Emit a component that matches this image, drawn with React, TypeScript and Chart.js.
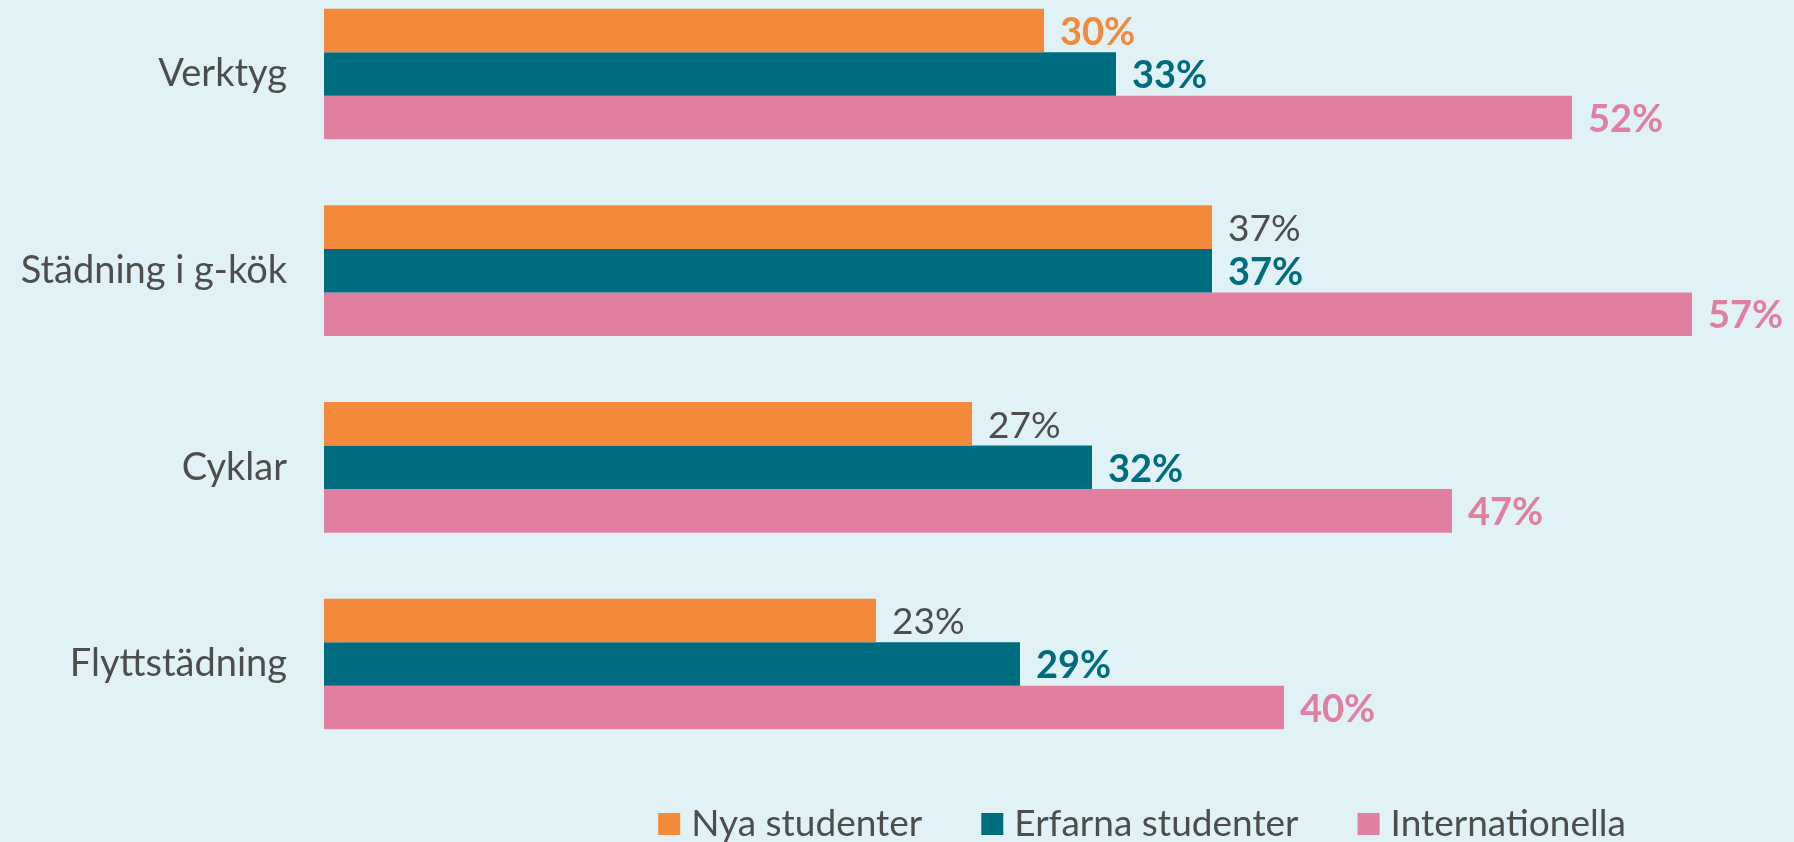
import React, { useEffect, useRef } from "react";
import { Chart, registerables } from "chart.js";

Chart.register(...registerables);

// ---- data ----
const categories = ["Verktyg", "Städning i g-kök", "Cyklar", "Flyttstädning"];
const seriesNames = ["Nya studenter", "Erfarna studenter", "Internationella"];
const nyaStudenter = [30, 37, 27, 23];
const erfarnaStudenter = [33, 37, 32, 29];
const internationella = [52, 57, 47, 40];
const valueAxisMin = 0;
const valueAxisMax = 60;

// ---- styles ----
const COLORS = ["#F2893B", "#006C80", "#E07FA0"];
const BG = "#E0F2F6";
const TEXT = "#4D4D4D";
const FONT = "Lato, 'Open Sans', sans-serif";
// which labels of the first series are emphasised (bold, in series colour)
const firstSeriesEmphasis = [true, false, false, false];

const W = 1794;
const H = 842;

const valueLabels = {
  id: "valueLabels",
  afterDatasetsDraw(chart: any) {
    const ctx = chart.ctx;
    ctx.save();
    ctx.textAlign = "left";
    ctx.textBaseline = "middle";
    chart.data.datasets.forEach((ds: any, di: number) => {
      const meta = chart.getDatasetMeta(di);
      meta.data.forEach((bar: any, i: number) => {
        const v = ds.data[i];
        const bold = di > 0 || firstSeriesEmphasis[i];
        ctx.font = bold ? `700 38px ${FONT}` : `400 37px ${FONT}`;
        ctx.fillStyle = bold ? COLORS[di] : TEXT;
        ctx.fillText(`${v}%`, bar.x + 16, bar.y + 2);
      });
    });
    ctx.restore();
  },
};

const bottomLegend = {
  id: "bottomLegend",
  afterDraw(chart: any) {
    const ctx = chart.ctx;
    ctx.save();
    ctx.font = `400 37px ${FONT}`;
    ctx.textBaseline = "middle";
    ctx.textAlign = "left";
    const box = 22;
    const gapText = 11;
    const gapItem = 59;
    const items = chart.data.datasets.map((d: any) => ({
      text: d.label,
      color: d.backgroundColor,
      w: ctx.measureText(d.label).width,
    }));
    const total =
      items.reduce((s: number, it: any) => s + box + gapText + it.w, 0) +
      gapItem * (items.length - 1);
    let x = 1142 - total / 2;
    const cy = 824;
    items.forEach((it: any) => {
      ctx.fillStyle = it.color;
      ctx.fillRect(x, cy - box / 2, box, box);
      x += box + gapText;
      ctx.fillStyle = TEXT;
      ctx.fillText(it.text, x, cy);
      x += it.w + gapItem;
    });
    ctx.restore();
  },
};

export default function App() {
  const ref = useRef<HTMLCanvasElement | null>(null);

  useEffect(() => {
    if (!ref.current) return;
    const series = [nyaStudenter, erfarnaStudenter, internationella];
    const chart = new Chart(ref.current, {
      type: "bar",
      data: {
        labels: categories,
        datasets: series.map((d, i) => ({
          label: seriesNames[i],
          data: d,
          backgroundColor: COLORS[i],
          borderWidth: 0,
          barPercentage: 1,
          categoryPercentage: 0.664,
          clip: false as any,
        })),
      },
      options: {
        indexAxis: "y",
        responsive: false,
        animation: false,
        layout: { padding: { top: 74, bottom: 178, left: 0, right: 30 } },
        plugins: {
          legend: { display: false },
          tooltip: { enabled: false },
        },
        scales: {
          x: {
            display: false,
            min: valueAxisMin,
            max: valueAxisMax,
          },
          y: {
            type: "category",
            offset: false,
            grid: { display: false },
            border: { display: false },
            afterFit: (s: any) => {
              s.width = 324;
            },
            ticks: {
              autoSkip: false,
              padding: 29,
              color: TEXT,
              font: { family: FONT, size: 38, weight: "normal" },
            },
          },
        },
      },
      plugins: [valueLabels, bottomLegend],
    });
    return () => chart.destroy();
  }, []);

  return (
    <div
      style={{
        position: "fixed",
        left: 0,
        top: 0,
        width: W,
        height: H,
        background: BG,
      }}
    >
      <canvas ref={ref} width={W} height={H} style={{ display: "block" }} />
    </div>
  );
}
